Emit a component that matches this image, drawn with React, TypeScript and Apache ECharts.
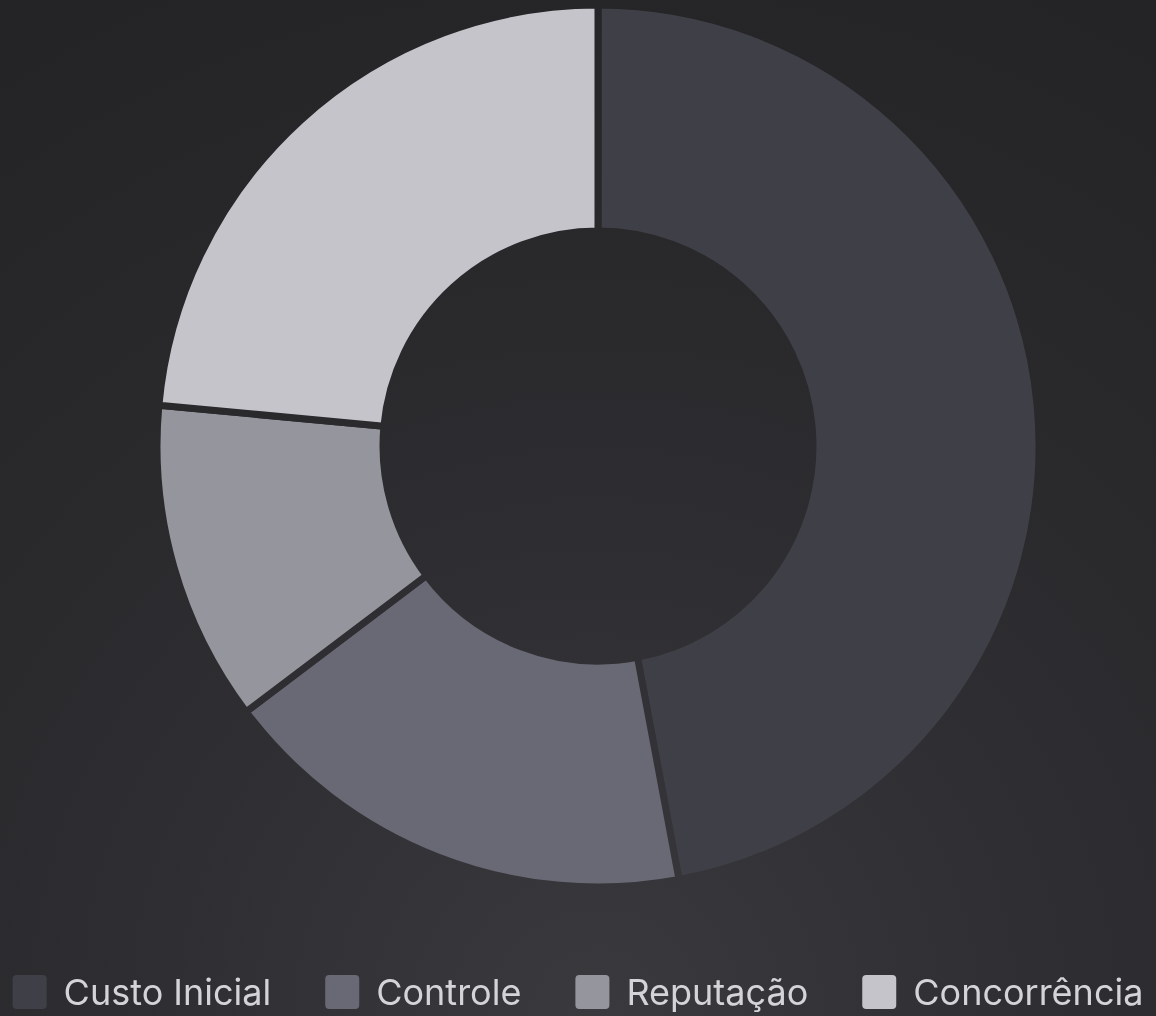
import React, { useEffect, useRef } from "react";
import * as echarts from "echarts";

const categories = ["Custo Inicial", "Controle", "Reputação", "Concorrência"];
const values = [40, 15, 10, 20];
const colors = ["#3f3f47", "#696975", "#95959e", "#c4c4ca"];

const ICON = "path://M4,0H30A4,4 0 0 1 34,4V30A4,4 0 0 1 30,34H4A4,4 0 0 1 0,30V4A4,4 0 0 1 4,0Z";

export default function App() {
  const ref = useRef<HTMLDivElement>(null);
  useEffect(() => {
    document.body.style.margin = "0";
    const chart = echarts.init(ref.current!, null, { renderer: "svg" });
    const bgGrad = {
      type: "radial",
      x: 598,
      y: 1016,
      r: 1120,
      global: true,
      colorStops: [
        { offset: 0, color: "#3a3a3e" },
        { offset: 0.384, color: "#2f2f33" },
        { offset: 0.607, color: "#2a2a2d" },
        { offset: 1, color: "#242426" },
      ],
    };
    chart.setOption({
      animation: false,
      backgroundColor: "transparent",
      legend: {
        bottom: 6,
        left: "center",
        padding: 0,
        itemWidth: 34,
        itemHeight: 34,
        itemGap: 54,
        icon: ICON,
        itemStyle: { borderWidth: 0 },
        textStyle: {
          color: "#d4d4d8",
          fontSize: 36,
          lineHeight: 34,
          fontFamily: "Inter",
          padding: [0, 0, 0, 12],
        },
        data: categories,
      },
      series: [
        {
          type: "pie",
          center: [598, 446],
          radius: [215, 441],
          startAngle: 90,
          clockwise: true,
          label: { show: false },
          labelLine: { show: false },
          itemStyle: { borderColor: bgGrad, borderWidth: 7 },
          data: categories.map((c, i) => ({ name: c, value: values[i], itemStyle: { color: colors[i] } })),
        },
      ],
    });
    return () => chart.dispose();
  }, []);
  return (
    <div
      ref={ref}
      style={{
        position: "fixed",
        left: 0,
        top: 0,
        width: 1156,
        height: 1016,
        background:
          "radial-gradient(circle at 598px 1016px, #3a3a3e 0px, #2f2f33 430px, #2a2a2d 680px, #242426 1120px)",
      }}
    />
  );
}
